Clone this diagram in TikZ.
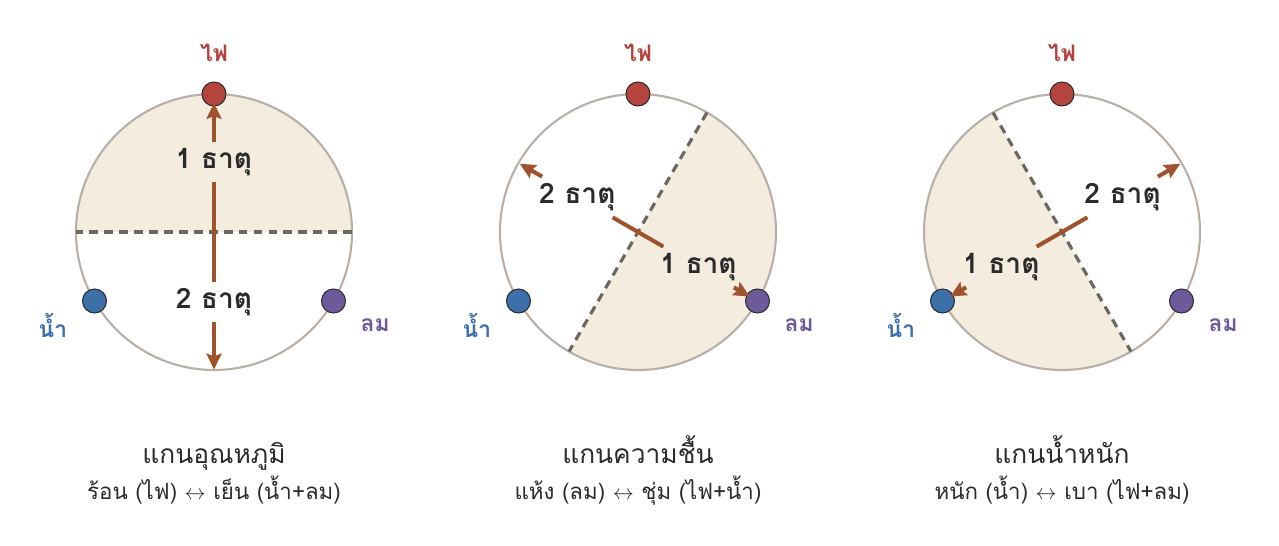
\documentclass[tikz,border=0pt]{standalone}
\usepackage{fontspec}
\setmainfont[Script=Thai]{Loma}
\usetikzlibrary{arrows.meta,positioning}
\definecolor{firecol}{HTML}{B5443F}
\definecolor{watercol}{HTML}{3D6FA9}
\definecolor{windcol}{HTML}{6E5A9B}
\definecolor{halfcol}{HTML}{F3ECDF}
\definecolor{rimcol}{HTML}{B8B0A8}
\definecolor{splitcol}{HTML}{6E675F}
\definecolor{pushcol}{HTML}{A0522D}
\definecolor{inkcol}{HTML}{2B2B2B}
\tikzset{
	rim/.style={draw=rimcol,line width=1.2pt},
	half/.style={fill=halfcol},
	split/.style={draw=splitcol,line width=1.8pt,dash pattern=on 5pt off 3.5pt},
	push/.style={draw=pushcol,line width=2.3pt},
	-push/.style={push,-{Stealth[length=9pt,width=8.5pt,inset=1.5pt]},shorten >=-2pt},
	element/.style={circle,draw=inkcol,line width=0.6pt,minimum size=0.48cm,inner sep=0pt},
	count/.style={font=\bfseries\fontsize{16}{18}\selectfont,text=inkcol,minimum height=0.8cm,inner xsep=1pt},
	elname/.style={font=\bfseries\fontsize{13}{15}\selectfont},
	title/.style={font=\fontsize{15}{18}\selectfont,text=inkcol,anchor=base},
	subtitle/.style={font=\fontsize{12.7}{15}\selectfont,text=inkcol,anchor=base}
}
\begin{document}
\begin{tikzpicture}[x=0.02cm,y=0.02cm]
	\useasboundingbox (0,0) rectangle (1279,545);
	\begin{scope}[shift={(214,313)}]
		\fill[half] (0:138) arc[start angle=0,end angle=180,radius=138] -- cycle;
		\draw[rim] (0,0) circle[radius=138];
		\draw[split] (0:138) -- (180:138);
		\node[element,fill=firecol] (fireT) at (90:138) {};
		\node[element,fill=watercol] (waterT) at (210:138) {};
		\node[element,fill=windcol] (windT) at (330:138) {};
		\node[elname,text=firecol] (fireTname) at (90:179) {ไฟ};
		\node[elname,text=watercol] (waterTname) at (210:186) {น้ำ};
		\node[elname,text=windcol] (windTname) at (330:186) {ลม};
		\node[count] (oneT) at (90:70) {1 ธาตุ};
		\node[count] (twoT) at (270:70) {2 ธาตุ};
		\coordinate (endT) at (270:134);
		\draw[push] (oneT) -- (twoT);
		\draw[-push] (oneT) -- (fireT);
		\draw[-push] (twoT) -- (endT);
		\node[title] (titleT) at (0,-231) {แกนอุณหภูมิ};
		\node[subtitle] (subT) at (0,-267) {ร้อน (ไฟ) $\leftrightarrow$ เย็น (น้ำ+ลม)};
	\end{scope}
	\begin{scope}[shift={(638,313)}]
		\fill[half] (60:138) arc[start angle=60,end angle=-120,radius=138] -- cycle;
		\draw[rim] (0,0) circle[radius=138];
		\draw[split] (60:138) -- (240:138);
		\node[element,fill=firecol] (fireM) at (90:138) {};
		\node[element,fill=watercol] (waterM) at (210:138) {};
		\node[element,fill=windcol] (windM) at (330:138) {};
		\node[elname,text=firecol] (fireMname) at (90:179) {ไฟ};
		\node[elname,text=watercol] (waterMname) at (210:186) {น้ำ};
		\node[elname,text=windcol] (windMname) at (330:186) {ลม};
		\node[count] (oneM) at (-30:70) {1 ธาตุ};
		\node[count] (twoM) at (150:70) {2 ธาตุ};
		\coordinate (endM) at (150:133);
		\draw[push] (oneM) -- (twoM);
		\draw[-push] (oneM) -- (windM);
		\draw[-push] (twoM) -- (endM);
		\node[title] (titleM) at (0,-231) {แกนความชื้น};
		\node[subtitle] (subM) at (0,-267) {แห้ง (ลม) $\leftrightarrow$ ชุ่ม (ไฟ+น้ำ)};
	\end{scope}
	\begin{scope}[shift={(1062,313)}]
		\fill[half] (120:138) arc[start angle=120,end angle=300,radius=138] -- cycle;
		\draw[rim] (0,0) circle[radius=138];
		\draw[split] (120:138) -- (300:138);
		\node[element,fill=firecol] (fireW) at (90:138) {};
		\node[element,fill=watercol] (waterW) at (210:138) {};
		\node[element,fill=windcol] (windW) at (330:138) {};
		\node[elname,text=firecol] (fireWname) at (90:179) {ไฟ};
		\node[elname,text=watercol] (waterWname) at (210:186) {น้ำ};
		\node[elname,text=windcol] (windWname) at (330:186) {ลม};
		\node[count] (oneW) at (210:70) {1 ธาตุ};
		\node[count] (twoW) at (30:70) {2 ธาตุ};
		\coordinate (endW) at (30:133);
		\draw[push] (oneW) -- (twoW);
		\draw[-push] (oneW) -- (waterW);
		\draw[-push] (twoW) -- (endW);
		\node[title] (titleW) at (0,-231) {แกนน้ำหนัก};
		\node[subtitle] (subW) at (0,-267) {หนัก (น้ำ) $\leftrightarrow$ เบา (ไฟ+ลม)};
	\end{scope}
\end{tikzpicture}
\end{document}
